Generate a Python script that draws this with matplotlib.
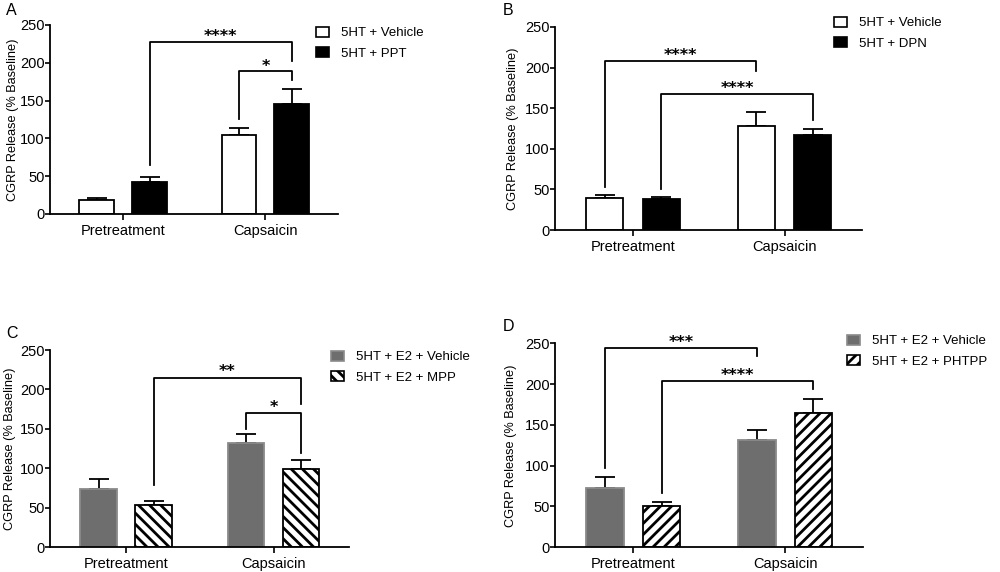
import numpy as np
import matplotlib
matplotlib.use('Agg')
import matplotlib.pyplot as plt
from matplotlib.patches import Patch

plt.rcParams['font.family'] = ['Liberation Sans', 'DejaVu Sans']
plt.rcParams['hatch.linewidth'] = 2.0

categories = ['Pretreatment', 'Capsaicin']

# Panel A
a_labels = ['5HT + Vehicle', '5HT + PPT']
a_vehicle = [18, 104]
a_vehicle_err = [3, 10]
a_ppt = [42, 146]
a_ppt_err = [6.5, 19]

# Panel B
b_labels = ['5HT + Vehicle', '5HT + DPN']
b_vehicle = [40, 128]
b_vehicle_err = [2.5, 17]
b_dpn = [38, 117]
b_dpn_err = [3, 7]

# Panel C
c_labels = ['5HT + E2 + Vehicle', '5HT + E2 + MPP']
c_vehicle = [74, 132]
c_vehicle_err = [12.5, 12]
c_mpp = [53, 99]
c_mpp_err = [6, 11]

# Panel D
d_labels = ['5HT + E2 + Vehicle', '5HT + E2 + PHTPP']
d_vehicle = [73, 132]
d_vehicle_err = [13, 12]
d_phtpp = [51, 165]
d_phtpp_err = [5, 17]

# significance brackets: (group1, series1, group2, series2, top, left end, right end, stars, star y)
a_sig = [(0, 1, 1, 1, 228, 65, 202, '****', 241),
         (1, 0, 1, 1, 189, 126, 177, '*', 201)]
b_sig = [(0, 0, 1, 0, 207.6, 53, 196, '****', 220),
         (0, 1, 1, 1, 167, 51, 136, '****', 180)]
c_sig = [(0, 1, 1, 1, 215, 79, 181, '**', 228),
         (1, 0, 1, 1, 170.5, 150, 120, '*', 183)]
d_sig = [(0, 0, 1, 0, 244, 97, 234, '***', 256),
         (0, 1, 1, 1, 204, 67, 194, '****', 216)]

offset = 0.186
width = 0.245

styles_ab = [dict(facecolor='white', edgecolor='black'),
             dict(facecolor='black', edgecolor='black')]
styles_c = [dict(facecolor='#6e6e6e', edgecolor='#8a8a8a'),
            dict(facecolor='white', edgecolor='black', hatch='\\\\\\')]
styles_d = [dict(facecolor='#6e6e6e', edgecolor='#8a8a8a'),
            dict(facecolor='white', edgecolor='black', hatch='///')]


def draw_panel(ax, series, errs, labels, styles, sig, legend_pos, ylabel_x):
    x = np.arange(len(categories))
    handles = []
    for i, (vals, err, st) in enumerate(zip(series, errs, styles)):
        xs = x + (i - 0.5) * 2 * offset
        ax.errorbar(xs, vals, yerr=[np.zeros(len(err)), err], fmt='none',
                    ecolor='black', elinewidth=1.3, capsize=7, capthick=1.3, zorder=1)
        ax.bar(xs, vals, width, linewidth=1.3, zorder=2, **st)
        handles.append(Patch(linewidth=1.2, label=labels[i], **st))
    for g1, s1, g2, s2, top, y1, y2, stars, ys in sig:
        x1 = g1 + (s1 - 0.5) * 2 * offset
        x2 = g2 + (s2 - 0.5) * 2 * offset
        ax.plot([x1, x1, x2, x2], [y1, top, top, y2], color='black', lw=1.3,
                clip_on=False, zorder=3)
        ax.annotate(stars, ((x1 + x2) / 2, ys), xytext=(0, -6.5), textcoords='offset points',
                    ha='center', va='baseline', fontsize=11.5, fontweight='bold',
                    family='DejaVu Sans', annotation_clip=False)
    ax.set_xlim(-0.515, 1.51)
    ax.set_ylim(0, 250)
    ax.set_yticks([0, 50, 100, 150, 200, 250])
    ax.set_xticks(x)
    ax.set_xticklabels(categories, fontsize=10.5)
    ax.tick_params(axis='y', labelsize=10.5, length=3.5, width=1.2, pad=0.5)
    ax.tick_params(axis='x', length=4, width=1.2, pad=3)
    ax.set_ylabel('CGRP Release (% Baseline)', fontsize=9.2)
    ax.yaxis.set_label_coords(ylabel_x, 0.5)
    for side in ['top', 'right']:
        ax.spines[side].set_visible(False)
    for side in ['left', 'bottom']:
        ax.spines[side].set_linewidth(1.3)
    ax.legend(handles=handles, loc='upper left', bbox_to_anchor=legend_pos,
              bbox_transform=ax.figure.transFigure, frameon=False, fontsize=9.5,
              borderpad=0, borderaxespad=0, handlelength=1.0, handleheight=0.75,
              handletextpad=0.9, labelspacing=0.6)


fig = plt.figure(figsize=(10, 5.72), dpi=100)
ax_a = fig.add_axes([0.05, 0.6259, 0.288, 0.3304])
ax_b = fig.add_axes([0.555, 0.5979, 0.307, 0.3549])
ax_c = fig.add_axes([0.05, 0.0432, 0.299, 0.3449])
ax_d = fig.add_axes([0.555, 0.0432, 0.3077, 0.3566])

draw_panel(ax_a, [a_vehicle, a_ppt], [a_vehicle_err, a_ppt_err], a_labels,
           styles_ab, a_sig, (0.316, 1 - 27 / 572), -0.107)
draw_panel(ax_b, [b_vehicle, b_dpn], [b_vehicle_err, b_dpn_err], b_labels,
           styles_ab, b_sig, (0.834, 1 - 17 / 572), -0.116)
draw_panel(ax_c, [c_vehicle, c_mpp], [c_vehicle_err, c_mpp_err], c_labels,
           styles_c, c_sig, (0.331, 1 - 351 / 572), -0.115)
draw_panel(ax_d, [d_vehicle, d_phtpp], [d_vehicle_err, d_phtpp_err], d_labels,
           styles_d, d_sig, (0.847, 1 - 335 / 572), -0.122)

fig.text(0.006, 0.995, 'A', fontsize=11.5, va='top')
fig.text(0.503, 0.995, 'B', fontsize=11.5, va='top')
fig.text(0.006, 1 - 326 / 572, 'C', fontsize=11.5, va='top')
fig.text(0.503, 1 - 319 / 572, 'D', fontsize=11.5, va='top')

fig.savefig('out.png', dpi=100)
